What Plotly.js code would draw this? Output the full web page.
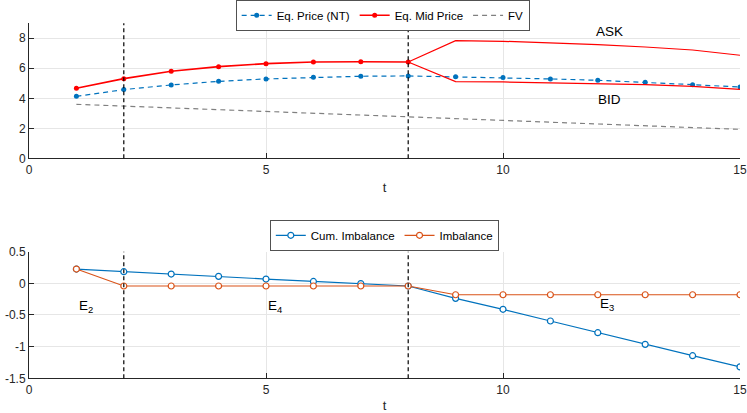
<!DOCTYPE html>
<html>
<head>
<meta charset="utf-8">
<script src="https://cdn.plot.ly/plotly-3.0.1.min.js"></script>
<style>
  html, body { margin: 0; padding: 0; background: #fff; }
  #chart { width: 747px; height: 413px; }
</style>
</head>
<body>
<div id="chart"></div>
<script>
// time steps
const t = [1, 2, 3, 4, 5, 6, 7, 8, 9, 10, 11, 12, 13, 14, 15];

// top panel: prices
const eqPriceNT = [4.13, 4.58, 4.89, 5.13, 5.29, 5.40, 5.47, 5.49, 5.44, 5.38, 5.29, 5.20, 5.07, 4.91, 4.75];
const tMid = [1, 2, 3, 4, 5, 6, 7, 8];
const eqMidPrice = [4.67, 5.31, 5.80, 6.11, 6.31, 6.42, 6.44, 6.42];
const tSpread = [8, 9, 10, 11, 12, 13, 14, 15];
const askPrice = [6.42, 7.84, 7.80, 7.71, 7.58, 7.42, 7.22, 6.87];
const bidPrice = [6.42, 5.11, 5.09, 5.04, 5.00, 4.91, 4.80, 4.60];
const fairValue = [3.60, 3.48, 3.36, 3.24, 3.12, 3.00, 2.89, 2.78, 2.65, 2.53, 2.41, 2.29, 2.17, 2.05, 1.93];

// bottom panel: order imbalance
const cumImbalance = [0.226, 0.184, 0.147, 0.110, 0.068, 0.030, -0.003, -0.042, -0.237, -0.410, -0.595, -0.780, -0.964, -1.143, -1.320];
const imbalance = [0.226, -0.042, -0.042, -0.042, -0.042, -0.042, -0.042, -0.042, -0.180, -0.180, -0.180, -0.180, -0.180, -0.180, -0.180];

// regime changes (vertical dashed lines)
const regimeBreaks = [2, 8];

// tick labels
const xTicks = [0, 5, 10, 15];
const yTopTicks = [0, 2, 4, 6, 8];
const yBotTicks = [-1.5, -1, -0.5, 0, 0.5];
const yBotLabels = ['-1.5', '-1', '-0.5', '0', '0.5'];

const BLUE = '#0072BD';
const ORANGE = '#D95319';
const RED = '#FF0000';
const AXIS = '#262626';
const GRID = '#E6E6E6';
const FONT = 'Liberation Sans, Arial, sans-serif';
const DASH = '5px,4px';

const traces = [
    {
        x: t, y: eqPriceNT, type: 'scatter', mode: 'lines+markers',
        name: 'Eq. Price (NT)', xaxis: 'x', yaxis: 'y',
        line: { color: BLUE, width: 1.2, dash: DASH },
        marker: { color: BLUE, size: 5 }
    },
    {
        x: tMid, y: eqMidPrice, type: 'scatter', mode: 'lines+markers',
        name: 'Eq. Mid Price', xaxis: 'x', yaxis: 'y',
        line: { color: RED, width: 1.6 },
        marker: { color: RED, size: 5 }
    },
    {
        x: t, y: fairValue, type: 'scatter', mode: 'lines',
        name: 'FV', xaxis: 'x', yaxis: 'y',
        line: { color: '#808080', width: 1.2, dash: DASH }
    },
    {
        x: tSpread, y: askPrice, type: 'scatter', mode: 'lines',
        name: 'ASK', showlegend: false, xaxis: 'x', yaxis: 'y',
        line: { color: RED, width: 1.2 }
    },
    {
        x: tSpread, y: bidPrice, type: 'scatter', mode: 'lines',
        name: 'BID', showlegend: false, xaxis: 'x', yaxis: 'y',
        line: { color: RED, width: 1.2 }
    },
    {
        x: t, y: cumImbalance, type: 'scatter', mode: 'lines+markers',
        name: 'Cum. Imbalance', xaxis: 'x2', yaxis: 'y2', legend: 'legend2',
        line: { color: BLUE, width: 1.2 },
        marker: { color: '#fff', size: 6, line: { color: BLUE, width: 1.2 } }
    },
    {
        x: t, y: imbalance, type: 'scatter', mode: 'lines+markers',
        name: 'Imbalance', xaxis: 'x2', yaxis: 'y2', legend: 'legend2',
        line: { color: ORANGE, width: 1.2 },
        marker: { color: '#fff', size: 6, line: { color: ORANGE, width: 1.2 } }
    }
];

const xAxisBase = {
    range: [0, 15],
    tickvals: xTicks,
    ticks: 'inside', ticklen: 5, tickcolor: AXIS, tickwidth: 1,
    showline: true, linecolor: AXIS, linewidth: 1,
    showgrid: true, gridcolor: GRID, zeroline: false,
    tickfont: { family: FONT, size: 12, color: AXIS },
    title: { text: 't', font: { family: FONT, size: 13, color: AXIS }, standoff: 7 }
};

const yAxisBase = {
    ticks: 'inside', ticklen: 5, tickcolor: AXIS, tickwidth: 1,
    showline: true, linecolor: AXIS, linewidth: 1,
    showgrid: true, gridcolor: GRID, zeroline: false,
    tickfont: { family: FONT, size: 12, color: AXIS }
};

const shapes = [];
regimeBreaks.forEach(b => {
    ['y domain', 'y2 domain'].forEach((yr, i) => {
        shapes.push({
            type: 'line', xref: i === 0 ? 'x' : 'x2', yref: yr,
            x0: b, x1: b, y0: 0, y1: 1,
            line: { color: '#000', width: 1.2, dash: '4px,3px' }
        });
    });
});

const annFont = { family: FONT, size: 13.5, color: '#000' };
const annotations = [
    { x: 12.25, y: 8.45, xref: 'x', yref: 'y', text: 'ASK', showarrow: false, font: annFont },
    { x: 12.25, y: 3.95, xref: 'x', yref: 'y', text: 'BID', showarrow: false, font: annFont },
    { x: 1.2, y: -0.37, xref: 'x2', yref: 'y2', text: 'E<sub>2</sub>', showarrow: false, font: annFont },
    { x: 5.2, y: -0.37, xref: 'x2', yref: 'y2', text: 'E<sub>4</sub>', showarrow: false, font: annFont },
    { x: 12.2, y: -0.33, xref: 'x2', yref: 'y2', text: 'E<sub>3</sub>', showarrow: false, font: annFont }
];

const legendBase = {
    orientation: 'h', xanchor: 'center', yanchor: 'top',
    bgcolor: '#fff', bordercolor: '#262626', borderwidth: 0.8,
    font: { family: FONT, size: 11.5, color: '#000' },
    itemwidth: 30, tracegroupgap: 0
};

const layout = {
    width: 747, height: 413,
    margin: { l: 29.3, r: 7, t: 0, b: 0, autoexpand: false },
    paper_bgcolor: '#fff', plot_bgcolor: '#fff',
    font: { family: FONT },
    showlegend: true,
    xaxis: Object.assign({}, xAxisBase, { anchor: 'y', domain: [0, 1] }),
    yaxis: Object.assign({}, yAxisBase, {
        anchor: 'x', domain: [0.6167, 0.9436], range: [0, 9], tickvals: yTopTicks
    }),
    xaxis2: Object.assign({}, xAxisBase, { anchor: 'y2', domain: [0, 1] }),
    yaxis2: Object.assign({}, yAxisBase, {
        anchor: 'x2', domain: [0.084, 0.3906], range: [-1.5, 0.5],
        tickvals: yBotTicks, ticktext: yBotLabels
    }),
    legend: Object.assign({}, legendBase, { x: 0.4977, y: 1.0 }),
    legend2: Object.assign({}, legendBase, { x: 0.5, y: 0.4673 }),
    shapes: shapes,
    annotations: annotations
};

Plotly.newPlot('chart', traces, layout, { staticPlot: true, displayModeBar: false });
</script>
</body>
</html>
